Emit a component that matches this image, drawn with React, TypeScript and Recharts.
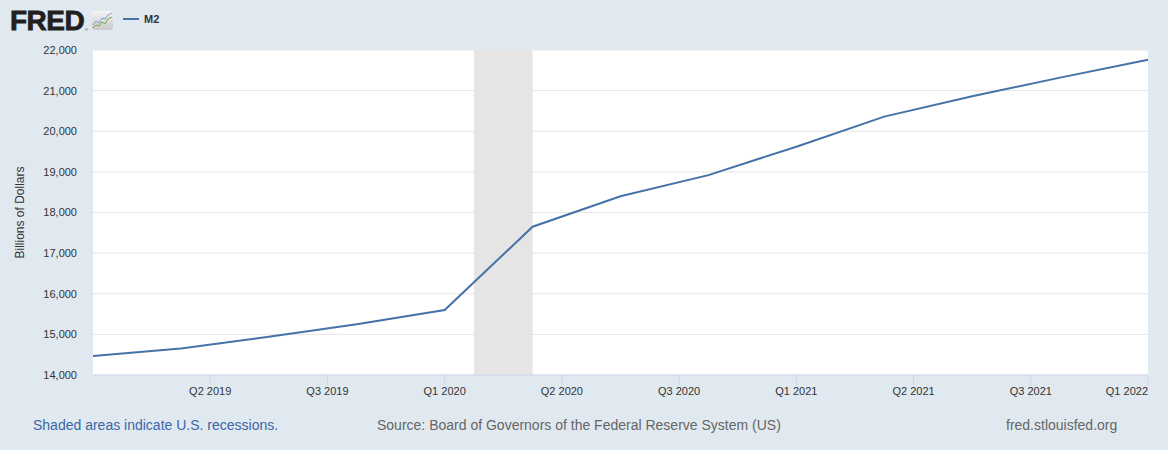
import {
  CartesianGrid,
  Line,
  LineChart,
  ReferenceArea,
  XAxis,
  YAxis,
} from "recharts";

const BG = "#e1e9f0";
const SERIES = "#4572a7";
const AXIS = "#ccd6eb";
const GRID = "#e6e6e6";
const TEXT = "#333333";
const FONT = "'Liberation Sans', Arial, Helvetica, sans-serif";

// months since Jan 2019, one point per quarter
const months = [0, 3, 6, 9, 12, 15, 18, 21, 24, 27, 30, 33, 36];
// M2, billions of dollars
const m2 = [
  14470, 14650, 14940, 15250, 15600, 17650, 18400, 18920, 19620, 20360, 20860,
  21320, 21760,
];

const xTicks = [4, 8, 12, 16, 20, 24, 28, 32, 36];
const xTickLabels = [
  "Q2 2019",
  "Q3 2019",
  "Q1 2020",
  "Q2 2020",
  "Q3 2020",
  "Q1 2021",
  "Q2 2021",
  "Q3 2021",
  "Q1 2022",
];
const yTicks = [14000, 15000, 16000, 17000, 18000, 19000, 20000, 21000, 22000];

// Feb 2020 - Apr 2020
const recessionStart = 13;
const recessionEnd = 15;

const data = months.map((m, i) => ({ m, m2: m2[i] }));

function XTick(props: any) {
  const { x, y, payload } = props;
  const i = xTicks.indexOf(payload.value);
  const last = payload.value === xTicks[xTicks.length - 1];
  return (
    <text
      x={x}
      y={y}
      dy="0.71em"
      textAnchor={last ? "end" : "middle"}
      fill={TEXT}
      fontSize={11}
      fontFamily={FONT}
    >
      {xTickLabels[i]}
    </text>
  );
}

function Header() {
  return (
    <svg
      width={1168}
      height={40}
      style={{ position: "absolute", left: 0, top: 0, pointerEvents: "none" }}
    >
      <defs>
        <linearGradient id="ico" x1="0" y1="0" x2="0" y2="1">
          <stop offset="0%" stopColor="#f4f4f4" />
          <stop offset="100%" stopColor="#c9c9c9" />
        </linearGradient>
      </defs>
      <text
        x={10}
        y={30}
        fontFamily={FONT}
        fontWeight="bold"
        fontSize={28}
        fill="#231f20"
        stroke="#231f20"
        strokeWidth={0.8}
        letterSpacing={-0.5}
      >
        FRED
      </text>
      <text x={85} y={31} fontFamily={FONT} fontSize={4} fill="#231f20">
        ®
      </text>
      <rect x={92} y={11} width={21} height={19} rx={3} fill="url(#ico)" />
      <polyline
        points="93,25 96,21 99,23 102,18 105,19 108,15 112,13"
        fill="none"
        stroke="#6a9bc8"
        strokeWidth={0.9}
      />
      <polyline
        points="93,28 96,25 99,26 102,22 105,24 108,19 112,17"
        fill="none"
        stroke="#6aa23a"
        strokeWidth={0.9}
      />
      <line x1={123} y1={19} x2={139} y2={19} stroke={SERIES} strokeWidth={2} />
      <text
        x={144}
        y={23}
        fontFamily={FONT}
        fontWeight="bold"
        fontSize={11}
        fill={TEXT}
      >
        M2
      </text>
    </svg>
  );
}

function Footer() {
  return (
    <svg
      width={1168}
      height={50}
      style={{ position: "absolute", left: 0, top: 400, pointerEvents: "none" }}
    >
      <text x={33} y={30} fontFamily={FONT} fontSize={14} fill="#3a67a6">
        Shaded areas indicate U.S. recessions.
      </text>
      <text x={377} y={30} fontFamily={FONT} fontSize={14} fill="#666666">
        Source: Board of Governors of the Federal Reserve System (US)
      </text>
      <text x={1006} y={30} fontFamily={FONT} fontSize={14} fill="#666666">
        fred.stlouisfed.org
      </text>
    </svg>
  );
}

export default function App() {
  return (
    <div
      style={{
        position: "absolute",
        left: 0,
        top: 0,
        width: 1168,
        height: 450,
        background: BG,
        fontFamily: FONT,
      }}
    >
      <LineChart
        width={1168}
        height={450}
        data={data}
        margin={{ top: 50, right: 20, bottom: 0, left: 0 }}
      >
        <CartesianGrid
          vertical={false}
          stroke={GRID}
          fill="#ffffff"
          fillOpacity={1}
        />
        <ReferenceArea
          x1={recessionStart}
          x2={recessionEnd}
          fill="#e5e5e5"
          fillOpacity={1}
          stroke="none"
        />
        <XAxis
          type="number"
          dataKey="m"
          domain={[0, 36]}
          ticks={xTicks}
          interval={0}
          height={75}
          tickSize={10}
          tickMargin={2}
          stroke={AXIS}
          axisLine={{ stroke: AXIS }}
          tickLine={{ stroke: AXIS }}
          tick={<XTick />}
        />
        <YAxis
          type="number"
          domain={[14000, 22000]}
          ticks={yTicks}
          interval={0}
          width={93}
          axisLine={false}
          tickLine={false}
          tickSize={0}
          tickMargin={16}
          tickFormatter={(v: number) => v.toLocaleString("en-US")}
          tick={{ fill: TEXT, fontSize: 11, fontFamily: FONT }}
          label={{
            value: "Billions of Dollars",
            angle: -90,
            position: "insideLeft",
            offset: 20,
            style: {
              fill: TEXT,
              fontSize: 12,
              fontFamily: FONT,
              textAnchor: "middle",
            },
          }}
        />
        <Line
          type="linear"
          dataKey="m2"
          stroke={SERIES}
          strokeWidth={2}
          dot={false}
          activeDot={false}
          isAnimationActive={false}
        />
      </LineChart>
      <Header />
      <Footer />
    </div>
  );
}
